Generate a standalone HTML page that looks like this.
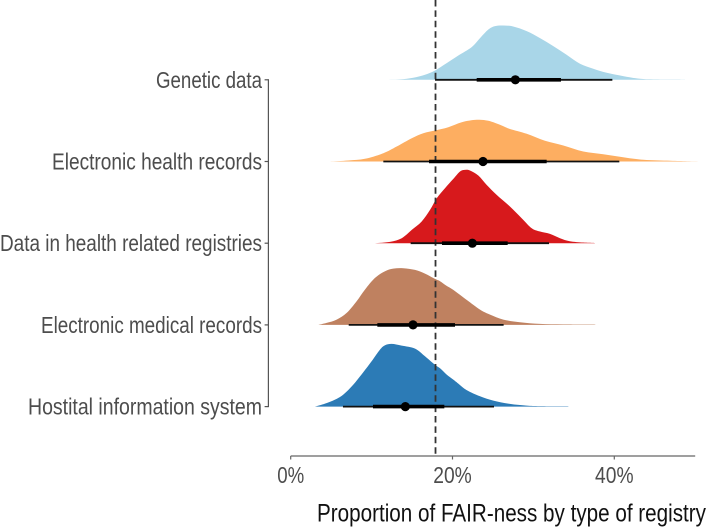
<!DOCTYPE html>
<html>
<head>
<meta charset="utf-8">
<title>Proportion of FAIR-ness by type of registry</title>
<style>
html,body{margin:0;padding:0;background:#fff;width:708px;height:529px;overflow:hidden}
svg{display:block}
text{font-family:"Liberation Sans Narrow","Liberation Sans",sans-serif}
</style>
</head>
<body>
<svg id="chart" width="708" height="529" viewBox="0 0 708 529" xmlns="http://www.w3.org/2000/svg"></svg>
<script>
const categories = ["Genetic data", "Electronic health records", "Data in health related registries", "Electronic medical records", "Hostital information system"];
const colors = ["#a9d6e8", "#fdae61", "#d7191c", "#bf8160", "#2c7bb6"];
const labelWidths = [106, 210, 262, 221, 234];

const geneticX = [11.45,13.51,15.15,16.6,17.84,19.28,20.72,22.37,23.4,24.43,25.25,26.28,27.5,29.17,30.82,32.46,34.1,35.76,37.4,39.06,41.1,43.18,44.82,48.4,48.74];
const geneticD = [0,0.4,2,5,9.3,16.7,24.3,32.7,41.7,50.3,53.7,54.3,53.3,48.7,41.7,33.7,25,16,11,7,3.7,1,0.4,0.2,0];
const healthX = [4.86,7.12,9.18,11.45,13.1,14.96,16.39,17.84,19.48,21.14,22.99,24.43,26.08,27.1,29.17,31.43,33.7,36.17,38.64,41.1,43.6,46.9,49,51];
const healthD = [0,1,2.7,8.3,15,23.3,28.3,31,34.3,39.3,41.7,40.7,36,32.5,27.7,20.7,16,10,7.3,4.3,1.7,0.7,0.3,0];
const registryX = [10.42,12.27,13.72,14.96,16.19,17.22,18.05,19.07,20.1,20.93,21.55,22.16,23.19,24.22,25.46,27.1,28.55,29.79,30.82,32.05,33.29,34.5,36.17,37.4,37.6];
const registryD = [0,1.3,5,13.3,21.7,33.3,45,55,64.3,71.7,73.3,72.7,67.7,58.3,48.3,36.7,25,15,11.7,9.3,5,2,0.7,0.3,0];
const medicalX = [3.41,4.44,5.68,6.92,8.15,9.18,10.42,11.66,12.68,13.92,15.37,16.6,17.84,18.46,19.28,20.1,21.75,23.4,24.64,26.28,28.34,30.82,33.7,37.3,37.6];
const medicalD = [0,2,5.3,12,23.7,35.3,47,53.7,56.3,56.7,55,51.3,46,43.7,39,35,25,15.3,10.3,5.3,2.7,1,0.5,0.35,0];
const hospitalX = [3,4.24,5.48,6.5,7.74,8.97,10,11.04,11.66,12.48,13.72,15.37,16.6,17.84,18.46,19.28,20.1,20.72,21.75,23.4,25.05,27.1,29.17,30.82,34,34.3];
const hospitalD = [0,3,7,12,22,34.3,45.3,57,61.3,62.7,61,58,50.3,41.7,38.3,32,27,23,16.5,10.3,6,2.7,1,0.5,0.3,0];

const outerLow = [17.84,11.45,14.83,7.17,6.46];
const outerHigh = [39.76,40.62,31.93,26.32,25.13];
const innerLow = [22.99,17.1,18.7,10.71,10.17];
const innerHigh = [33.41,31.64,26.82,20.31,18.99];
const medians = [27.77,23.77,22.45,15.12,14.17];

const xTicks = [0,20,40];
const xTickLabels = ["0%","20%","40%"];
const referenceValue = 17.9;
const xMax = 50;

const NS = "http://www.w3.org/2000/svg";
const svg = document.getElementById("chart");
const xs = v => 290.7 + v * 8.09;
const ridgeY = i => 79.8 + i * 81.7;
const dens = d => d;

function make(tag, attrs, parent){
  const el = document.createElementNS(NS, tag);
  for (const k in attrs) el.setAttribute(k, attrs[k]);
  (parent || svg).appendChild(el);
  return el;
}

function smoothPath(pts){
  let d = "M" + pts[0][0].toFixed(2) + " " + pts[0][1].toFixed(2);
  for (let i = 0; i < pts.length - 1; i++){
    const p0 = pts[Math.max(i-1,0)], p1 = pts[i], p2 = pts[i+1], p3 = pts[Math.min(i+2,pts.length-1)];
    const c1x = p1[0] + (p2[0]-p0[0])/6, c1y = Math.min(p1[1] + (p2[1]-p0[1])/6, pts[0][1]);
    const c2x = p2[0] - (p3[0]-p1[0])/6, c2y = Math.min(p2[1] - (p3[1]-p1[1])/6, pts[0][1]);
    d += "C" + c1x.toFixed(2) + " " + c1y.toFixed(2) + " " + c2x.toFixed(2) + " " + c2y.toFixed(2) + " " + p2[0].toFixed(2) + " " + p2[1].toFixed(2);
  }
  return d + "Z";
}

const densX = [geneticX, healthX, registryX, medicalX, hospitalX];
const densD = [geneticD, healthD, registryD, medicalD, hospitalD];

/* y axis */
const ySpine = make("line", {x1:268.4, x2:268.4, y1:ridgeY(0)-0.5, y2:ridgeY(4)+0.5, stroke:"#555", "stroke-width":1.2});



/* x axis */
const xAxisLine = make("line", {x1:xs(0), x2:xs(xMax), y1:456, y2:456, stroke:"#666", "stroke-width":1.2});



xTicks.forEach((t, i) => {
  const tick = make("line", {x1:xs(t), x2:xs(t), y1:456, y2:459.5, stroke:"#666", "stroke-width":1.2});
  
  
  const label = make("text", {x:xs(t), y:483, "text-anchor":"middle", "font-size":23.5, fill:"#4d4d4d", textLength:[27,38.5,38.5][i], lengthAdjust:"spacingAndGlyphs"});
  label.textContent = xTickLabels[i];
  
  
});

categories.forEach((name, i) => {
  const y0 = ridgeY(i);
  const pts = densX[i].map((x, j) => [xs(x), y0 - dens(densD[i][j])]);
  const area = make("path", {d:smoothPath(pts), fill:colors[i]});
  
  

  const tick = make("line", {x1:264.6, x2:268.4, y1:y0, y2:y0, stroke:"#555", "stroke-width":1.2});
  
  

  const label = make("text", {x:262, y:y0+8, "text-anchor":"end", "font-size":23, fill:"#4d4d4d", textLength:labelWidths[i], lengthAdjust:"spacingAndGlyphs"});
  label.textContent = name;
  
  
});

/* reference line sits over the ridges, under the intervals */
const refLine = make("line", {x1:xs(referenceValue), x2:xs(referenceValue), y1:0, y2:456, stroke:"#333", "stroke-width":1.8, "stroke-dasharray":"6.5 3.9"});



categories.forEach((name, i) => {
  const y0 = ridgeY(i);
  const outer = make("line", {x1:xs(outerLow[i]), x2:xs(outerHigh[i]), y1:y0, y2:y0, stroke:"#111", "stroke-width":1.8});
  
  
  const inner = make("line", {x1:xs(innerLow[i]), x2:xs(innerHigh[i]), y1:y0, y2:y0, stroke:"#000", "stroke-width":3.6});
  
  
  const dot = make("circle", {cx:xs(medians[i]), cy:y0, r:4.6, fill:"#000"});
  
  
});

const title = make("text", {x:317, y:521.5, "font-size":25, fill:"#111", textLength:389, lengthAdjust:"spacingAndGlyphs"});
title.textContent = "Proportion of FAIR-ness by type of registry";


</script>
</body>
</html>
